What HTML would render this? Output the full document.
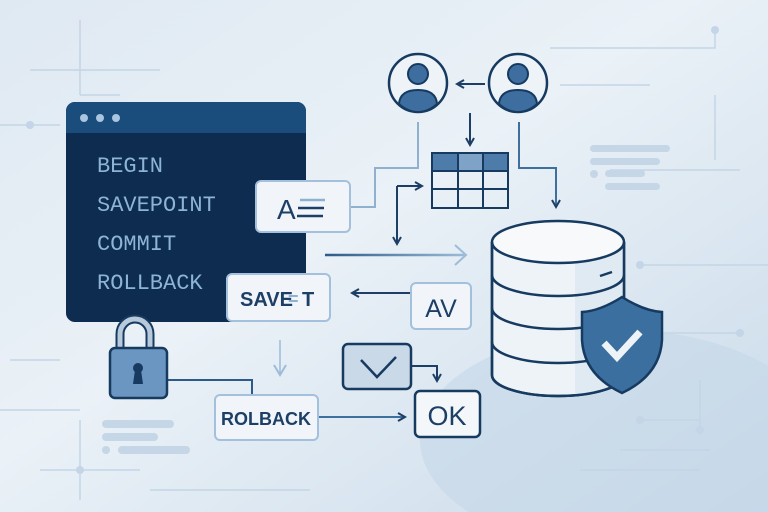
<!DOCTYPE html>
<html><head><meta charset="utf-8"><style>
html,body{margin:0;padding:0;width:768px;height:512px;overflow:hidden;position:relative}
svg{display:block;position:absolute;left:0;top:0}
text{font-family:"Liberation Sans",sans-serif}
text.mono{font-family:"Liberation Mono",monospace}
</style></head><body>
<svg width="768" height="512" viewBox="0 0 768 512" xmlns="http://www.w3.org/2000/svg">
<defs>
<linearGradient id="bg" x1="0" y1="0" x2="1" y2="1">
<stop offset="0" stop-color="#dfe9f2"/><stop offset="0.45" stop-color="#eaf1f7"/><stop offset="1" stop-color="#c9daea"/>
</linearGradient>
<linearGradient id="arr" gradientUnits="userSpaceOnUse" x1="325" y1="0" x2="466" y2="0"><stop offset="0" stop-color="#2d5a88"/><stop offset="1" stop-color="#9dbcd8"/></linearGradient>
<marker id="ah" markerWidth="10" markerHeight="10" refX="8" refY="5" orient="auto" markerUnits="userSpaceOnUse"><path d="M1,1 L8,5 L1,9" fill="none" stroke="#1d3f66" stroke-width="2"/></marker>
<marker id="ahl" markerWidth="14" markerHeight="14" refX="11" refY="7" orient="auto" markerUnits="userSpaceOnUse"><path d="M1,1 L11,7 L1,13" fill="none" stroke="#9dbcd8" stroke-width="2"/></marker>
</defs>
<rect width="768" height="512" fill="url(#bg)"/>
<ellipse cx="620" cy="440" rx="200" ry="110" fill="#c5d7e8" opacity="0.6"/>
<g stroke="#c3d5e6" stroke-width="1.5" fill="none">
<path d="M0,125 H60 M30,70 H160 M80,20 V95 M80,95 H120"/>
<path d="M550,48 H715 V30 M560,85 H650 M610,170 H740 M640,265 H768 M660,333 H740 M700,380 V430 M640,420 H700 M620,450 H710 M580,470 H700 M715,95 V160"/>
<path d="M10,360 H60 M40,470 H140 M80,420 V500 M150,490 H310 M0,410 H80"/>
</g>
<g fill="#c3d5e6"><circle cx="715" cy="30" r="4"/><circle cx="640" cy="265" r="4"/><circle cx="30" cy="125" r="4"/><circle cx="80" cy="470" r="4"/><circle cx="700" cy="430" r="4"/><circle cx="640" cy="420" r="4"/><circle cx="740" cy="333" r="4"/></g>
<g fill="#c5d6e6"><rect x="590" y="145" width="80" height="7" rx="3.5"/><rect x="590" y="158" width="70" height="7" rx="3.5"/><circle cx="594" cy="174" r="4"/><rect x="605" y="170" width="40" height="7" rx="3.5"/><rect x="605" y="183" width="55" height="7" rx="3.5"/>
<rect x="102" y="420" width="72" height="8" rx="4"/><rect x="102" y="433" width="56" height="8" rx="4"/><circle cx="106" cy="450" r="4"/><rect x="118" y="446" width="72" height="8" rx="4"/></g>
<rect x="66" y="102" width="240" height="220" rx="9" fill="#0d2c4f"/>
<path d="M75,102 H297 A9,9 0 0 1 306,111 V133 H66 V111 A9,9 0 0 1 75,102Z" fill="#1a4d7c"/>
<g fill="#a9c5df"><circle cx="84" cy="118" r="4"/><circle cx="100" cy="118" r="4"/><circle cx="116" cy="118" r="4"/></g>
<g font-size="22" fill="#8db4d7">
<text class="mono" x="97" y="172">BEGIN</text><text class="mono" x="97" y="211">SAVEPOINT</text><text class="mono" x="97" y="250">COMMIT</text><text class="mono" x="97" y="289">ROLLBACK</text></g>
<path d="M280,340 V375" stroke="#9dbcd8" stroke-width="1.5" marker-end="url(#ahl)"/>
<path d="M166,380 H252 V394" fill="none" stroke="#2d5a88" stroke-width="2"/>
<path d="M485,84 H457" stroke="#1d3f66" stroke-width="2" marker-end="url(#ah)"/>
<path d="M470,113 V145" stroke="#1d3f66" stroke-width="2" marker-end="url(#ah)"/>
<path d="M519,122 V168 H556 V207" fill="none" stroke="#3f6f9c" stroke-width="2" marker-end="url(#ah)"/>
<path d="M418,122 V168 H375 V207 H350" fill="none" stroke="#8fb0cf" stroke-width="2"/>
<path d="M397,186 H422" stroke="#1d3f66" stroke-width="2" marker-end="url(#ah)"/>
<path d="M397,186 V244" stroke="#1d3f66" stroke-width="2" marker-end="url(#ah)"/>
<path d="M325,255 H466" stroke="url(#arr)" stroke-width="2.5"/>
<path d="M455,245 L466,255 L455,265" fill="none" stroke="#9dbcd8" stroke-width="2"/>
<path d="M410,293 H352" stroke="#1d3f66" stroke-width="2" marker-end="url(#ah)"/>
<path d="M411,366 H437 V381" fill="none" stroke="#1d3f66" stroke-width="2" marker-end="url(#ah)"/>
<path d="M318,417 H405" stroke="#3f6f9c" stroke-width="2" marker-end="url(#ah)"/>
<g stroke="#163a60" stroke-width="2.5">
<circle cx="418" cy="83" r="29" fill="#eef3f8"/><circle cx="518" cy="83" r="29" fill="#eef3f8"/></g>
<g fill="#3d6e9f" stroke="#163a60" stroke-width="2">
<circle cx="418" cy="74" r="10"/><circle cx="518" cy="74" r="10"/>
<path d="M399,104 Q400,90 418,90 Q436,90 437,104 Q428,112 418,112 Q408,112 399,104Z"/>
<path d="M499,104 Q500,90 518,90 Q536,90 537,104 Q528,112 518,112 Q508,112 499,104Z"/></g>
<rect x="432" y="153" width="76" height="18" fill="#4d7cab"/>
<rect x="458" y="153" width="25" height="18" fill="#7fa3c6"/>
<g fill="none" stroke="#163a60" stroke-width="2"><rect x="432" y="153" width="76" height="55"/>
<path d="M432,171 H508 M432,189 H508 M458,153 V208 M483,153 V208"/></g>
<rect x="256" y="181" width="94" height="51" rx="5" fill="#f1f5f9" stroke="#a3c0dc" stroke-width="2"/>
<text x="277" y="219" font-size="28" fill="#1d3f66">A</text>
<path d="M298,208 H324 M297,216 H323" stroke="#1d3f66" stroke-width="2.5"/>
<path d="M300,200 H325" stroke="#8fb0cf" stroke-width="2.5"/>
<rect x="227" y="274" width="103" height="47" rx="5" fill="#f1f5f9" stroke="#a3c0dc" stroke-width="2"/>
<text x="240" y="306" font-size="20" font-weight="bold" fill="#1d3f66">SAVE</text>
<text x="288" y="305" font-size="18" font-weight="bold" fill="#8fb0cf">=</text>
<text x="302" y="306" font-size="20" font-weight="bold" fill="#1d3f66">T</text>
<rect x="411" y="283" width="60" height="46" rx="5" fill="#f1f5f9" stroke="#a3c0dc" stroke-width="2"/>
<text x="441" y="317" font-size="25" fill="#1d3f66" text-anchor="middle">AV</text>
<rect x="343" y="344" width="68" height="45" rx="5" fill="#c9d9e8" stroke="#163a60" stroke-width="2.5"/>
<path d="M361,360 L377,377 L396,357" fill="none" stroke="#163a60" stroke-width="2.5"/>
<rect x="415" y="391" width="65" height="46" rx="5" fill="#f4f7fa" stroke="#163a60" stroke-width="2.5"/>
<text x="447" y="425" font-size="27" fill="#1d3f66" text-anchor="middle">OK</text>
<rect x="215" y="395" width="103" height="45" rx="5" fill="#f1f5f9" stroke="#a3c0dc" stroke-width="2"/>
<text x="266" y="425" font-size="18" font-weight="bold" fill="#1d3f66" text-anchor="middle">ROLBACK</text>
<path d="M120,350 V334 A15,15 0 0 1 150,334 V350" fill="none" stroke="#163a60" stroke-width="9"/>
<path d="M120,350 V334 A15,15 0 0 1 150,334 V350" fill="none" stroke="#b7c9da" stroke-width="5"/>
<rect x="110" y="348" width="57" height="50" rx="5" fill="#6b96c1" stroke="#163a60" stroke-width="2.5"/>
<circle cx="138" cy="368" r="5" fill="#163a60"/><path d="M135,370 L133,384 H143 L141,370Z" fill="#163a60"/>
<path d="M492,242 V375 A66,21 0 0 0 624,375 V242" fill="#eef3f8" stroke="#163a60" stroke-width="2.5"/>
<path d="M575,262 V395 A66,21 0 0 0 624,375 V242 Z" fill="#dae6f0" opacity="0.7"/>
<ellipse cx="558" cy="242" rx="66" ry="21" fill="#f7f9fb" stroke="#163a60" stroke-width="2.5"/>
<g fill="none" stroke="#163a60" stroke-width="2.5">
<path d="M492,275 A66,21 0 0 0 624,275"/><path d="M492,308 A66,21 0 0 0 624,308"/><path d="M492,342 A66,21 0 0 0 624,342"/>
<path d="M600,276 L612,272"/>
<path d="M492,242 V375 A66,21 0 0 0 624,375 V242"/></g>
<path d="M622,297 Q600,311 582,312 V340 Q584,375 622,393 Q660,375 662,340 V312 Q644,311 622,297Z" fill="#3b6f9f" stroke="#163a60" stroke-width="2.5"/>
<path d="M604,343 L617,357 L640,332" fill="none" stroke="#eef3f8" stroke-width="7"/>
</svg>
</body></html>
